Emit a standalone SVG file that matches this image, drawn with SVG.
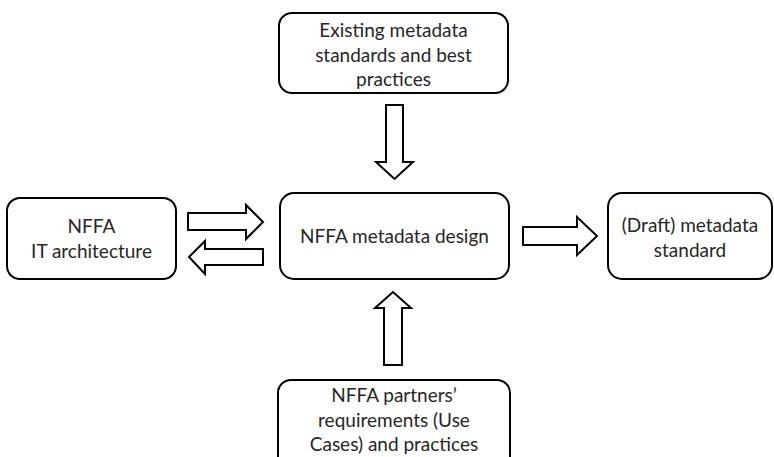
<svg xmlns="http://www.w3.org/2000/svg" width="774" height="457" viewBox="0 0 774 457">
<style>
.box{fill:#fff;stroke:#000;stroke-width:2}
.arr{fill:#fff;stroke:#000;stroke-width:2;stroke-linejoin:miter}
text{font-family:Lato,"Open Sans","Liberation Sans",sans-serif;font-size:19px;fill:#262626;text-anchor:middle}
</style>
<rect width="774" height="457" fill="#fff"/>
<g id="connectors">
<polygon class="arr" points="386,105 403,105 403,162 413,162 394.5,179 376,162 386,162"/>
<polygon class="arr" points="384,365 402,365 402,308 411,308 393,292 375,308 384,308"/>
<polygon class="arr" points="523,227 577,227 577,217 597,236 577,255 577,245 523,245"/>
<polygon class="arr" points="188,213 246,213 246,205 263,222 246,239 246,230 188,230"/>
<polygon class="arr" points="263,249 205,249 205,241 189,257 205,274 205,265 263,265"/>
</g>
<g id="existing">
<rect class="box" x="279" y="13" width="229" height="80" rx="13"/>
<text x="393.5" y="37">Existing metadata</text>
<text x="393.5" y="61.5">standards and best</text>
<text x="393.5" y="86">practices</text>
</g>
<g id="it">
<rect class="box" x="7" y="198" width="169" height="81" rx="13"/>
<text x="91.5" y="233">NFFA</text>
<text x="91.5" y="258">IT architecture</text>
</g>
<g id="design">
<rect class="box" x="280" y="193" width="229" height="86" rx="14"/>
<text x="394.5" y="243">NFFA metadata design</text>
</g>
<g id="draft">
<rect class="box" x="608" y="193" width="164" height="86" rx="14"/>
<text x="690" y="232">(Draft) metadata</text>
<text x="690" y="257">standard</text>
</g>
<g id="partners">
<rect class="box" x="278" y="380" width="232" height="90" rx="13"/>
<text x="394" y="402">NFFA partners’</text>
<text x="394" y="426.5">requirements (Use</text>
<text x="394" y="451">Cases) and practices</text>
</g>
</svg>
